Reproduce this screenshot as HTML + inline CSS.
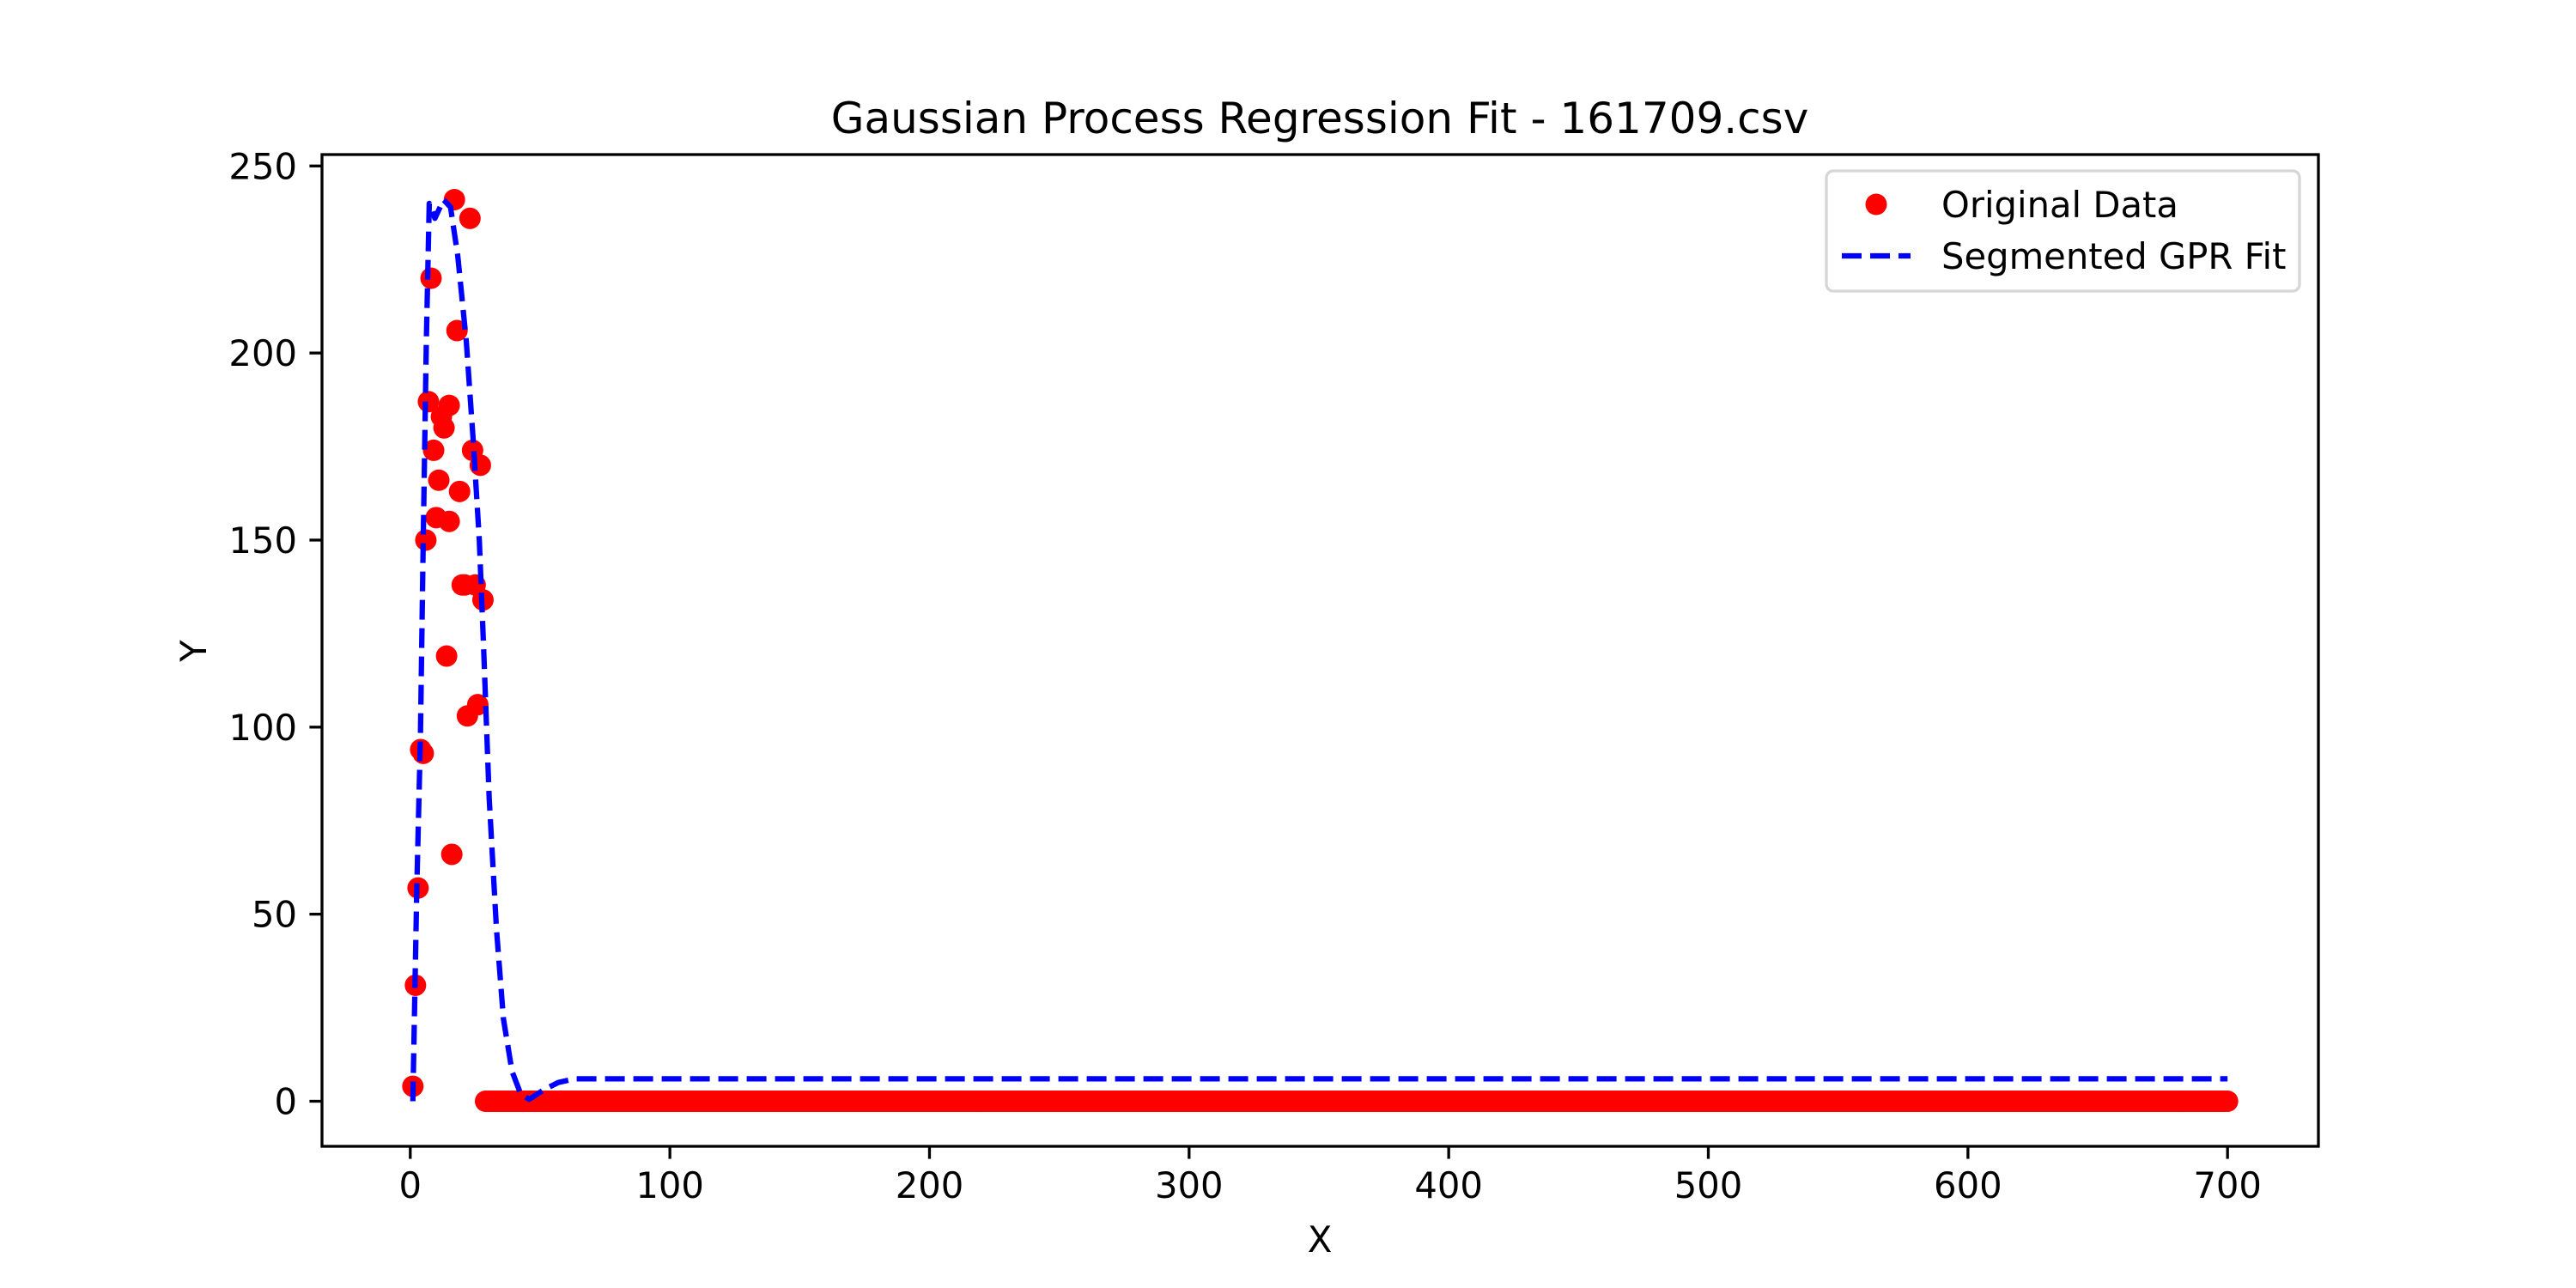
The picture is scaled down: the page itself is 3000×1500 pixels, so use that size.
<!DOCTYPE html>
<html><head><meta charset="utf-8"><style>
html,body{margin:0;padding:0;background:#fff;}
svg{display:block;font-family:"DejaVu Sans","Liberation Sans",sans-serif;}
</style></head><body>
<svg id="chart" width="3000" height="1500" viewBox="0 0 3000 1500" xmlns="http://www.w3.org/2000/svg">
<rect width="3000" height="1500" fill="#fff"/>
<text x="1537" y="155" font-size="50" text-anchor="middle">Gaussian Process Regression Fit - 161709.csv</text>
<g id="plot"></g>
<text x="1537" y="1458" font-size="41.7" text-anchor="middle">X</text>
<text x="0" y="0" font-size="41.7" text-anchor="middle" transform="translate(240,758) rotate(-90)">Y</text>
<g>
<rect x="2127" y="199" width="551" height="140" rx="8" fill="#fff" stroke="#d6d6d6" stroke-width="3.3"/>
<circle cx="2185" cy="238" r="12.5" fill="#ff0000"/>
<text x="2261" y="253" font-size="41.7">Original Data</text>
<line x1="2145" y1="298" x2="2225" y2="298" stroke="#0000ff" stroke-width="6.25" stroke-dasharray="23,10"/>
<text x="2261" y="313" font-size="41.7">Segmented GPR Fit</text>
</g>
</svg>
<script>
const dataX = [1,2,3,4,5,6,7,8,9,10,11,12,13,14,15,15,16,17,18,19,20,21,22,23,24,25,26,27,28];
const dataY = [4,31,57,94,93,150,187,220,174,156,166,183,180,119,186,155,66,241,206,163,138,138,103,236,174,138,106,170,134];
const zeroStart = 29, zeroEnd = 700;
const fitX = [1,2.5,3.9,5,6.2,7.3,9.5,12.8,15.5,18.3,21.6,24.3,26.6,28.2,30.4,33.2,35.9,39.2,42.5,45.8,51.3,57,63.4,70,700];
const fitY = [0,57,97,150,203,240,236,241,239,226,203,176,150,122,81,46,22,8,2,0.5,3,5,6,6,6];
const xTicks = [0,100,200,300,400,500,600,700];
const yTicks = [0,50,100,150,200,250];

const L=375,R=2700,T=180,B=1335;
const xMin=-34,xMax=735,yMin=-12.05,yMax=253.05;
const xs=v=>L+(v-xMin)/(xMax-xMin)*(R-L);
const ys=v=>B-(v-yMin)/(yMax-yMin)*(B-T);
const NS='http://www.w3.org/2000/svg';
const g=document.getElementById('plot');
function mk(t,a){const e=document.createElementNS(NS,t);for(const k in a)e.setAttribute(k,a[k]);g.appendChild(e);return e;}

// zero points
for(let x=zeroStart;x<=zeroEnd;x++){
  const c=mk('circle',{cx:xs(x),cy:ys(0),r:12.5,fill:'#ff0000'});
  
  
}
for(let i=0;i<dataX.length;i++){
  const c=mk('circle',{cx:xs(dataX[i]),cy:ys(dataY[i]),r:12.5,fill:'#ff0000'});
  
  
}
const pts=fitX.map((x,i)=>xs(x).toFixed(1)+','+ys(fitY[i]).toFixed(1)).join(' ');
const pl=mk('polyline',{points:pts,fill:'none',stroke:'#0000ff','stroke-width':6.25,'stroke-dasharray':'23,10','stroke-linejoin':'round'});



// axes frame
const fr=mk('rect',{x:L,y:T,width:R-L,height:B-T,fill:'none',stroke:'#000','stroke-width':3.3});


xTicks.forEach(v=>{
  const x=xs(v);
  const t=mk('line',{x1:x,y1:B,x2:x,y2:B+14.6,stroke:'#000','stroke-width':3.3});
  
  
  const l=mk('text',{x:x,y:1395,'font-size':41.7,'text-anchor':'middle'});
  l.textContent=v;
  
  
});
yTicks.forEach(v=>{
  const y=ys(v);
  const t=mk('line',{x1:L-14.6,y1:y,x2:L,y2:y,stroke:'#000','stroke-width':3.3});
  
  
  const l=mk('text',{x:346,y:y+15,'font-size':41.7,'text-anchor':'end'});
  l.textContent=v;
  
  
});
</script>
</body></html>
